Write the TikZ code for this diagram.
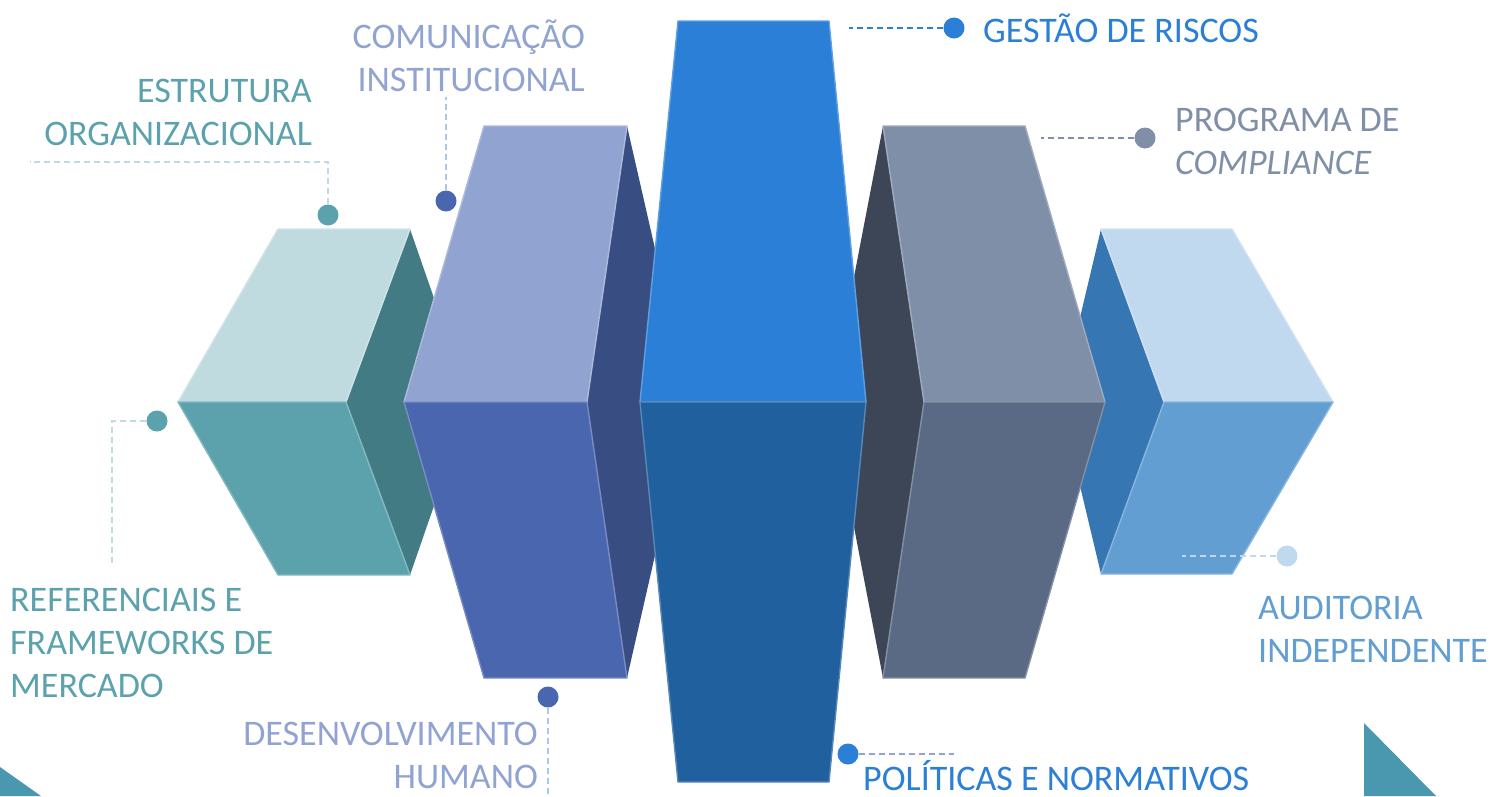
\documentclass[tikz,border=0pt]{standalone}
\usepackage{fontspec}
\setmainfont{Carlito}
\begin{document}
\begin{tikzpicture}[x=1pt,y=-1pt,
  dot/.style={circle,fill=#1,inner sep=0pt,minimum size=21pt},
  lbl/.style={text=#1,inner sep=0pt,font=\fontsize{36}{43}\selectfont},
  lead/.style={draw=#1,line width=1.6pt,dash pattern=on 6pt off 4pt},
  face/.style={fill=#1,draw=#1!75!white,line width=1.4pt,line join=round}]
\definecolor{tealtop}{HTML}{BFDBDF}
\definecolor{tealfront}{HTML}{5BA2AD}
\definecolor{tealside}{HTML}{427B84}
\definecolor{lavtop}{HTML}{91A3D0}
\definecolor{lavfront}{HTML}{4A66AE}
\definecolor{lavside}{HTML}{384D82}
\definecolor{bluetop}{HTML}{2B7FD6}
\definecolor{bluefront}{HTML}{20609E}
\definecolor{greytop}{HTML}{7F8FA8}
\definecolor{greyfront}{HTML}{5A6A84}
\definecolor{greyside}{HTML}{3C4656}
\definecolor{skytop}{HTML}{C1D9EE}
\definecolor{skyfront}{HTML}{629ED2}
\definecolor{skyside}{HTML}{3677B3}
\definecolor{triangle}{HTML}{4A98B0}
\definecolor{leadblue}{HTML}{A8C8F0}

\useasboundingbox (0,0) rectangle (1492,796);

% corner triangles
\fill[triangle] (0,767) -- (41,796) -- (0,796) -- cycle;
\fill[triangle] (1364,723) -- (1436,796) -- (1364,796) -- cycle;

% left block
\fill[tealside] (410,229) -- (470,402) -- (410,575) -- (346,402) -- cycle;
\path[face=tealtop] (278,229) -- (410,229) -- (346,402) -- (178,402) -- cycle;
\path[face=tealfront] (178,402) -- (346,402) -- (410,575) -- (278,575) -- cycle;

% right block
\fill[skyside] (1101,229) -- (1164,402) -- (1101,574) -- (1060,402) -- cycle;
\path[face=skytop] (1101,229) -- (1232,229) -- (1333,402) -- (1164,402) -- cycle;
\path[face=skyfront] (1164,402) -- (1333,402) -- (1232,574) -- (1101,574) -- cycle;

% second left block
\fill[lavside] (627,126) -- (690,402) -- (627,678) -- (587,402) -- cycle;
\path[face=lavtop] (484,126) -- (627,126) -- (587,402) -- (404,402) -- cycle;
\path[face=lavfront] (404,402) -- (587,402) -- (627,678) -- (484,678) -- cycle;

% second right block
\fill[greyside] (883,126) -- (924,402) -- (883,678) -- (830,402) -- cycle;
\path[face=greytop] (883,126) -- (1025,126) -- (1105,402) -- (924,402) -- cycle;
\path[face=greyfront] (924,402) -- (1105,402) -- (1025,678) -- (883,678) -- cycle;

% middle block
\path[face=bluetop] (678,21) -- (829,21) -- (866,402) -- (640,402) -- cycle;
\path[face=bluefront] (640,402) -- (866,402) -- (829,782) -- (678,782) -- cycle;

% labels
\node[dot=tealfront] (d1) at (328,215) {};
\coordinate (c1) at (30,162);
\node[lbl=tealfront, align=right, anchor=base east] (t1) at (312,145) {ESTRUTURA\\ORGANIZACIONAL};
\path[lead=tealtop] (d1) |- (c1);

\node[dot=lavfront] (d2) at (446,201) {};
\coordinate (c2) at (446,97);
\node[lbl=lavtop, align=right, anchor=base east] (t2) at (585,91) {COMUNICAÇÃO\\INSTITUCIONAL};
\path[lead=leadblue] (d2) -- (c2);

\node[dot=bluetop] (d3) at (954,28) {};
\coordinate (c3) at (849,28);
\node[lbl=bluetop, anchor=base west] (t3) at (983,42) {GESTÃO DE RISCOS};
\path[lead=bluetop] (d3) -- (c3);

\node[dot=greytop] (d4) at (1145,138) {};
\coordinate (c4) at (1041,138);
\node[lbl=greytop, align=left, anchor=base west] (t4) at (1175,174) {PROGRAMA DE\\\textit{COMPLIANCE}};
\path[lead=greytop] (d4) -- (c4);

\node[dot=tealfront] (d5) at (157,421) {};
\coordinate (c5) at (112,565);
\node[lbl=tealfront, align=left, anchor=base west] (t5) at (10,697) {REFERENCIAIS E\\FRAMEWORKS DE\\MERCADO};
\path[lead=tealtop] (d5) -| (c5);

\node[dot=lavfront] (d6) at (548,697) {};
\coordinate (c6) at (548,796);
\node[lbl=lavtop, align=right, anchor=base east] (t6) at (538,788) {DESENVOLVIMENTO\\HUMANO};
\path[lead=leadblue] (d6) -- (c6);

\node[dot=skytop] (d7) at (1287,556) {};
\coordinate (c7) at (1182,556);
\node[lbl=skyfront, align=left, anchor=base west] (t7) at (1258,662) {AUDITORIA\\INDEPENDENTE};
\path[lead=skytop] (d7) -- (c7);

\node[dot=bluetop] (d8) at (848,754) {};
\coordinate (c8) at (954,754);
\node[lbl=bluetop, anchor=base west] (t8) at (863,790) {POLÍTICAS E NORMATIVOS};
\path[lead=lavtop] (d8) -- (c8);
\end{tikzpicture}
\end{document}
